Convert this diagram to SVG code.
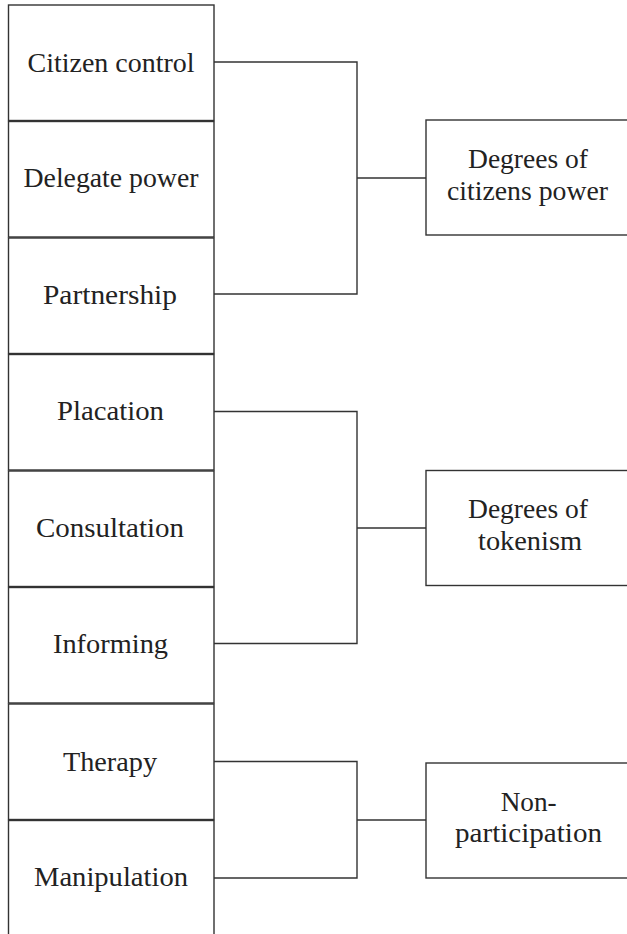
<svg xmlns="http://www.w3.org/2000/svg" width="627" height="934" viewBox="0 0 627 934">
<style>
.box{fill:#fff;stroke:#333;stroke-width:1.4}
.conn{fill:none;stroke:#333;stroke-width:1.4}
text{font-family:"Liberation Serif","Times New Roman",serif;font-size:27px;fill:#222;text-anchor:middle}
</style>
<rect width="627" height="934" fill="#fff"/>
<g id="n-citizen-control"><rect class="box" x="8.5" y="5" width="205.5" height="115.5"/><text x="111" y="71.5" textLength="167" lengthAdjust="spacingAndGlyphs">Citizen control</text></g>
<g id="n-delegate-power"><rect class="box" x="8.5" y="121.5" width="205.5" height="115.5"/><text x="111" y="187" textLength="175" lengthAdjust="spacingAndGlyphs">Delegate power</text></g>
<g id="n-partnership"><rect class="box" x="8.5" y="238" width="205.5" height="115.5"/><text x="110" y="303.5" textLength="134" lengthAdjust="spacingAndGlyphs">Partnership</text></g>
<g id="n-placation"><rect class="box" x="8.5" y="354.5" width="205.5" height="115.5"/><text x="110.5" y="420" textLength="107" lengthAdjust="spacingAndGlyphs">Placation</text></g>
<g id="n-consultation"><rect class="box" x="8.5" y="471" width="205.5" height="115.5"/><text x="110" y="536.5" textLength="148" lengthAdjust="spacingAndGlyphs">Consultation</text></g>
<g id="n-informing"><rect class="box" x="8.5" y="587.5" width="205.5" height="115.5"/><text x="110.5" y="652.5" textLength="115" lengthAdjust="spacingAndGlyphs">Informing</text></g>
<g id="n-therapy"><rect class="box" x="8.5" y="704" width="205.5" height="115.5"/><text x="110" y="770.5" textLength="94" lengthAdjust="spacingAndGlyphs">Therapy</text></g>
<g id="n-manipulation"><rect class="box" x="8.5" y="820.5" width="205.5" height="130"/><text x="111" y="886" textLength="154" lengthAdjust="spacingAndGlyphs">Manipulation</text></g>
<g id="n-citizens-power"><rect class="box" x="426" y="120" width="220" height="115"/><text x="528" y="168" textLength="120" lengthAdjust="spacingAndGlyphs">Degrees of</text><text x="527.5" y="200" textLength="161" lengthAdjust="spacingAndGlyphs">citizens power</text></g>
<g id="n-tokenism"><rect class="box" x="426" y="470.5" width="220" height="115"/><text x="528" y="518" textLength="120" lengthAdjust="spacingAndGlyphs">Degrees of</text><text x="530" y="550" textLength="104" lengthAdjust="spacingAndGlyphs">tokenism</text></g>
<g id="n-non-participation"><rect class="box" x="426" y="763" width="220" height="115"/><text x="528.7" y="811" textLength="56" lengthAdjust="spacingAndGlyphs">Non-</text><text x="528.5" y="842" textLength="147" lengthAdjust="spacingAndGlyphs">participation</text></g>
<g id="connectors">
<path class="conn" d="M214 62H357V294H214M357 178H426"/>
<path class="conn" d="M214 411.5H357V643.5H214M357 528H426"/>
<path class="conn" d="M214 761.5H357V878H214M357 820H426"/>
</g>
</svg>
